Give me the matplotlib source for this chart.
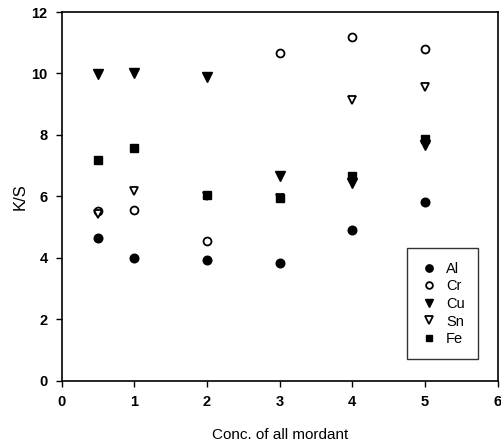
import matplotlib
matplotlib.use("Agg")
import matplotlib.pyplot as plt

plt.rcParams['font.family'] = ['Liberation Sans', 'DejaVu Sans']

# K/S values for each mordant against concentration
conc = [0.5, 1, 2, 3, 4, 5]
al = [4.66, 3.99, 3.93, 3.84, 4.92, 5.81]
cr = [5.54, 5.56, 4.56, 10.68, 11.2, 10.79]
cu = [9.99, 10.03, 9.88, 6.65, 6.45, 7.68]
sn = [5.43, 6.19, 6.0, 5.94, 9.14, 9.56]
fe = [7.17, 7.57, 6.06, 5.94, 6.65, 7.88]

fig = plt.figure(figsize=(5.01, 4.46), dpi=100)
ax = fig.add_axes([0.123, 0.1464, 0.8704, 0.8266])

ms = 6.2
ax.plot(conc, al, 'o', color='black', ms=ms, label='Al', linestyle='none')
ax.plot(conc, cr, 'o', mfc='white', mec='black', mew=1.3, ms=ms - 0.5, label='Cr', linestyle='none')
ax.plot(conc, sn, 'v', mfc='white', mec='black', mew=1.3, ms=ms, label='Sn', linestyle='none', zorder=2)
ax.plot(conc, cu, 'v', color='black', ms=ms + 0.5, label='Cu', linestyle='none', zorder=3)
ax.plot(conc, fe, 's', color='black', ms=ms - 0.3, label='Fe', linestyle='none', zorder=3)

ax.set_xlim(0, 6)
ax.set_ylim(0, 12)
ax.set_xticks(range(0, 7))
ax.set_yticks(range(0, 13, 2))
ax.tick_params(direction='out', length=4, width=1, labelsize=10.5, pad=6)
for lab in ax.get_xticklabels() + ax.get_yticklabels():
    lab.set_fontweight('bold')
for sp in ax.spines.values():
    sp.set_linewidth(1.2)

ax.set_xlabel('Conc. of all mordant', fontsize=11, labelpad=14)
ax.set_ylabel('K/S', fontsize=12, labelpad=3)

handles, labels = ax.get_legend_handles_labels()
order = ['Al', 'Cr', 'Cu', 'Sn', 'Fe']
hmap = dict(zip(labels, handles))
leg = ax.legend([hmap[k] for k in order], order, loc='lower right',
                bbox_to_anchor=(0.955, 0.058), frameon=True, fancybox=False,
                edgecolor='black', fontsize=10.5, handlelength=1.2,
                handletextpad=0.6, labelspacing=0.25, borderpad=0.9,
                borderaxespad=0, markerscale=0.85)
leg.get_frame().set_linewidth(1.0)

fig.savefig('out.png', dpi=100)
